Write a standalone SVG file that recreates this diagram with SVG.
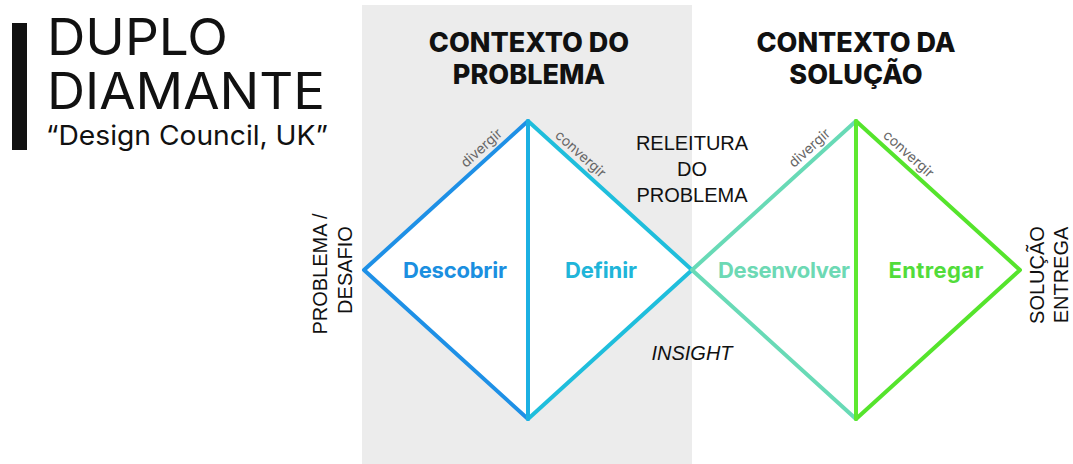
<svg xmlns="http://www.w3.org/2000/svg" width="1073" height="464" viewBox="0 0 1073 464">
<style>
.title{font-family:Inter,"Noto Sans",sans-serif;fill:#111}
.head{font-family:Inter,"Noto Sans",sans-serif;font-weight:800;font-size:27px;fill:#111;text-anchor:middle}
.lbl{font-family:Inter,"Noto Sans",sans-serif;font-weight:700;font-size:22px;text-anchor:middle}
.side{font-family:"Liberation Sans",Arial,sans-serif;font-size:20px;fill:#111;text-anchor:middle}
.small{font-family:Inter,"Noto Sans",sans-serif;font-size:14px;fill:#666;text-anchor:middle}
.edge{fill:none;stroke-width:4;stroke-linecap:round;stroke-linejoin:round}
</style>
<rect x="0" y="0" width="1073" height="464" fill="#ffffff"/>
<rect id="problem-context" x="362" y="5" width="330" height="459" fill="#ececec"/>
<g id="title">
<rect x="12" y="23" width="15" height="127" fill="#111"/>
<text class="title" x="47" y="55" font-size="51" textLength="181" lengthAdjust="spacingAndGlyphs">DUPLO</text>
<text class="title" x="47" y="109" font-size="50" textLength="278" lengthAdjust="spacingAndGlyphs">DIAMANTE</text>
<text class="title" x="46" y="145" font-size="27" textLength="282" lengthAdjust="spacingAndGlyphs">“Design Council, UK”</text>
</g>
<g id="headers">
<text class="head" x="529" y="52">CONTEXTO DO</text>
<text class="head" x="529" y="84">PROBLEMA</text>
<text class="head" x="856" y="52">CONTEXTO DA</text>
<text class="head" x="856" y="84">SOLUÇÃO</text>
</g>
<g id="connectors">
<path d="M528,121 L364,270 L528,419 Z" fill="#fff" stroke="none"/>
<path d="M528,121 L692,270 L528,419 Z" fill="#fff" stroke="none"/>
<path d="M856,121 L692,270 L856,419 Z" fill="#fff" stroke="none"/>
<path d="M856,121 L1020,270 L856,419 Z" fill="#fff" stroke="none"/>
<path class="edge" d="M528,121 L364,270 L528,419" stroke="#1e90e6"/>
<path class="edge" d="M528,121 L692,270 L528,419" stroke="#1fbedc"/>
<path class="edge" d="M528,121 L528,419" stroke="#1cb0e2"/>
<path class="edge" d="M856,121 L692,270 L856,419" stroke="#68dab6" stroke-width="3"/>
<path class="edge" d="M856,121 L1020,270 L856,419" stroke="#55e42c"/>
<path class="edge" d="M856,121 L856,419" stroke="#5ee830"/>
</g>
<g id="edge-labels">
<text class="small" transform="translate(484.5,151.5) rotate(-42)">divergir</text>
<text class="small" transform="translate(577.5,157.5) rotate(42)">convergir</text>
<text class="small" transform="translate(812.5,151.5) rotate(-42)">divergir</text>
<text class="small" transform="translate(905.5,157.5) rotate(42)">convergir</text>
</g>
<g id="node-descobrir"><text class="lbl" x="455" y="278" fill="#1b8fe0" textLength="104">Descobrir</text></g>
<g id="node-definir"><text class="lbl" x="601" y="278" fill="#20b5d9" textLength="72">Definir</text></g>
<g id="node-desenvolver"><text class="lbl" x="784" y="278" fill="#6dd9b4" textLength="132">Desenvolver</text></g>
<g id="node-entregar"><text class="lbl" x="936" y="278" fill="#52dc3a" textLength="95">Entregar</text></g>
<g id="releitura">
<text class="side" x="692" y="150">RELEITURA</text>
<text class="side" x="692" y="176">DO</text>
<text class="side" x="692" y="202">PROBLEMA</text>
</g>
<g id="insight"><text class="side" x="692" y="360" font-size="21" font-style="italic">INSIGHT</text></g>
<g id="problema">
<text class="side" font-size="21.5" transform="translate(327,274) rotate(-90)">PROBLEMA /</text>
<text class="side" font-size="21.5" transform="translate(352,270) rotate(-90)">DESAFIO</text>
</g>
<g id="solucao">
<text class="side" transform="translate(1044,275) rotate(-90)">SOLUÇÃO</text>
<text class="side" transform="translate(1068,275) rotate(-90)">ENTREGA</text>
</g>
</svg>
